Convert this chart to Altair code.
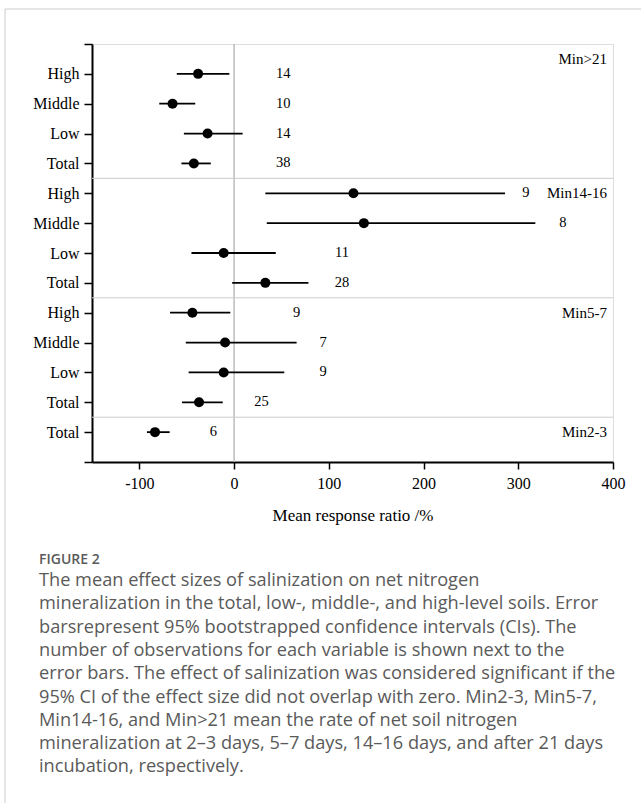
import altair as alt
import pandas as pd

# ---- data ----
row_pos = [1, 2, 3, 4, 5, 6, 7, 8, 9, 10, 11, 12, 13]
levels = ["High", "Middle", "Low", "Total",
          "High", "Middle", "Low", "Total",
          "High", "Middle", "Low", "Total",
          "Total"]
groups = ["Min>21"] * 4 + ["Min14-16"] * 4 + ["Min5-7"] * 4 + ["Min2-3"]
means = [-38, -65, -28, -42.5, 126, 137, -11, 33, -44, -9.5, -11, -37, -83.5]
lower = [-60.5, -79, -53, -55.6, 33, 34.5, -45, -2, -67.6, -51, -48, -55, -92]
upper = [-5, -41, 9, -24.6, 286, 318, 44, 78.5, -4, 66, 53, -12, -68]
n_obs = [14, 10, 14, 38, 9, 8, 11, 28, 9, 7, 9, 25, 6]
n_xpos = [52, 52, 52, 52, 308, 347, 114, 114, 66, 94, 94, 29, -22]

group_names = ["Min>21", "Min14-16", "Min5-7", "Min2-3"]
group_rows = [0.5, 5, 9, 13]
separators = [4.5, 8.5, 12.5]

x_ticks = [-100, 0, 100, 200, 300, 400]
y_ticks = [0] + row_pos + [14]

caption_head = "FIGURE 2"
caption_lines = [
    "The mean effect sizes of salinization on net nitrogen",
    "mineralization in the total, low-, middle-, and high-level soils. Error",
    "barsrepresent 95% bootstrapped confidence intervals (CIs). The",
    "number of observations for each variable is shown next to the",
    "error bars. The effect of salinization was considered significant if the",
    "95% CI of the effect size did not overlap with zero. Min2-3, Min5-7,",
    "Min14-16, and Min>21 mean the rate of net soil nitrogen",
    "mineralization at 2\u20133 days, 5\u20137 days, 14\u201316 days, and after 21 days",
    "incubation, respectively.",
]

df = pd.DataFrame({"row": row_pos, "level": levels, "group": groups,
                   "mean": means, "lo": lower, "hi": upper,
                   "n": n_obs, "nx": n_xpos})
gdf = pd.DataFrame({"name": group_names, "row": group_rows, "x": [400] * 4})
sdf = pd.DataFrame({"y": separators})
zdf = pd.DataFrame({"x": [0]})

W, H = 521, 418
SERIF = "Liberation Serif"

label_js = "[" + ",".join(['""'] + ['"%s"' % l for l in levels] + ['""']) + "]"

xscale = alt.Scale(domain=[-150, 400], nice=False, zero=False)
yscale = alt.Scale(domain=[0, 14], reverse=True, nice=False, zero=False)

x_axis = alt.Axis(values=x_ticks, title="Mean response ratio /%", grid=False,
                  labelExpr="'' + datum.value", labelOverlap=False, labelFlush=False,
                  domainColor="black", domainWidth=2, tickColor="black",
                  tickWidth=1.5, tickSize=7, labelFont=SERIF, labelFontSize=16,
                  labelColor="black", labelPadding=6, titleFont=SERIF,
                  titleFontSize=17, titleFontWeight="normal", titleColor="black",
                  titlePadding=16)
y_axis = alt.Axis(values=y_ticks, title=None, grid=False,
                  labelExpr=label_js + "[datum.value]", labelOverlap=False,
                  labelFlush=False, labelBound=False,
                  domainColor="black", domainWidth=2, tickColor="black",
                  tickWidth=1.5, tickSize=8, labelFont=SERIF, labelFontSize=16,
                  labelColor="black", labelPadding=5)

base = alt.Chart(df)

zero_line = alt.Chart(zdf).mark_rule(color="#bbbbbb", strokeWidth=1.5).encode(
    x=alt.X("x:Q", scale=xscale, axis=x_axis))

sep_lines = alt.Chart(sdf).mark_rule(color="#cccccc", strokeWidth=1).encode(
    y=alt.Y("y:Q", scale=yscale, axis=y_axis))

bars = base.mark_rule(color="black", strokeWidth=1.8).encode(
    x=alt.X("lo:Q", scale=xscale, axis=x_axis), x2="hi:Q",
    y=alt.Y("row:Q", scale=yscale, axis=y_axis))

dots = base.mark_circle(color="black", opacity=1, size=100).encode(
    x=alt.X("mean:Q", scale=xscale, axis=x_axis),
    y=alt.Y("row:Q", scale=yscale, axis=y_axis))

ntext = base.mark_text(font=SERIF, fontSize=14.5, color="black",
                       baseline="middle", align="center").encode(
    x=alt.X("nx:Q", scale=xscale, axis=x_axis),
    y=alt.Y("row:Q", scale=yscale, axis=y_axis),
    text="n:Q")

gtext = alt.Chart(gdf).mark_text(font=SERIF, fontSize=15, color="black",
                                 baseline="middle", align="right", dx=-6).encode(
    x=alt.X("x:Q", scale=xscale, axis=x_axis),
    y=alt.Y("row:Q", scale=yscale, axis=y_axis),
    text="name:N")

# page frame (decorative)
frame_top = alt.Chart(zdf).mark_rule(color="#cccccc", strokeWidth=1).encode(
    x=alt.value(-87), x2=alt.value(W + 40), y=alt.value(-35))
frame_left = alt.Chart(zdf).mark_rule(color="#cccccc", strokeWidth=1).encode(
    x=alt.value(-87), y=alt.value(-35), y2=alt.value(H + 360))

cap_layers = [alt.Chart(zdf).mark_text(
    font="Open Sans", fontSize=14, fontWeight=600, color="#5a5a5a",
    align="left", baseline="middle", text=caption_head).encode(
    x=alt.value(39 - 92), y=alt.value(560 - 44))]
for i, line in enumerate(caption_lines):
    cap_layers.append(alt.Chart(zdf).mark_text(
        font="Open Sans", fontSize=18.2, color="#5a5a5a",
        align="left", baseline="middle", text=line).encode(
        x=alt.value(39 - 92), y=alt.value(581 - 44 + i * 23.3)))

chart = alt.layer(zero_line, sep_lines, bars, dots, ntext, gtext,
                  frame_top, frame_left, *cap_layers).properties(
    width=W, height=H,
    padding={"left": 92, "top": 44, "right": 641 - 92 - W, "bottom": 803 - 44 - H},
    autosize=alt.AutoSizeParams(type="none"),
).configure_view(stroke="black", strokeWidth=2).configure_axisY(
    labelOverlap=False).configure(background="white")

chart.save("out.html", embed_options={"renderer": "svg", "actions": False})
